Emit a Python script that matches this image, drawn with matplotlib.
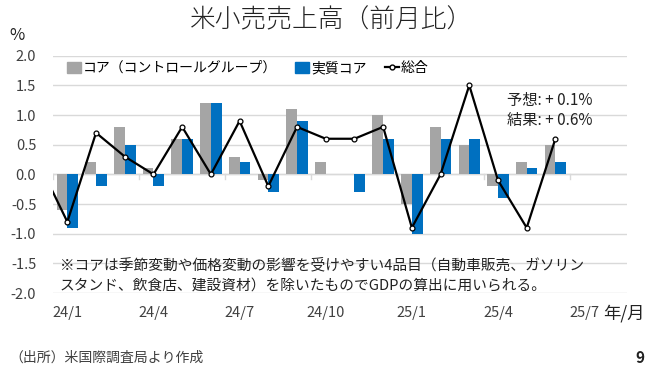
import numpy as np
import matplotlib
matplotlib.use("Agg")
import matplotlib.pyplot as plt
from matplotlib.patches import Patch
from matplotlib.lines import Line2D

plt.rcParams['font.family'] = ['Noto Sans CJK JP', 'DejaVu Sans']

months = ["24/1", "24/2", "24/3", "24/4", "24/5", "24/6", "24/7", "24/8", "24/9", "24/10",
          "24/11", "24/12", "25/1", "25/2", "25/3", "25/4", "25/5", "25/6", "25/7", "25/8"]
core = [-0.6, 0.2, 0.8, 0.1, 0.6, 1.2, 0.3, -0.1, 1.1, 0.2,
        0.0, 1.0, -0.5, 0.8, 0.5, -0.2, 0.2, 0.5, np.nan, np.nan]
real_core = [-0.9, -0.2, 0.5, -0.2, 0.6, 1.2, 0.2, -0.3, 0.9, 0.0,
             -0.3, 0.6, -1.0, 0.6, 0.6, -0.4, 0.1, 0.2, np.nan, np.nan]
total = [-0.8, 0.7, 0.3, 0.0, 0.8, 0.0, 0.9, -0.2, 0.8, 0.6,
         0.6, 0.8, -0.9, 0.0, 1.5, -0.1, -0.9, 0.6, np.nan, np.nan]
prev_total = 0.2  # 23/12 (clipped at left edge)
tick_every = 3

fig = plt.figure(figsize=(6.54, 3.71), dpi=100)
ax = fig.add_axes([0.081, 0.2102, 0.878, 0.6397])

x = np.arange(len(months))
w = 0.375
gray = '#A5A5A5'
blue = '#0070C0'
ax.bar(x - w/2, core, width=w, color=gray, zorder=2)
ax.bar(x + w/2, real_core, width=w, color=blue, zorder=2)
xl = np.concatenate([[-1], x])
yl = np.concatenate([[prev_total], total])
ax.plot(xl, yl, color='black', lw=1.6, zorder=3)
ax.plot(x, total, linestyle='none', marker='o', ms=3.5, mfc='white', mec='black', mew=0.9, zorder=4)

ax.set_xlim(-0.5, len(months) - 0.5)
ax.set_ylim(-2.0, 2.0)
ax.set_yticks(np.arange(-2.0, 2.01, 0.5))
ax.set_yticklabels([f"{v:.1f}" for v in np.arange(-2.0, 2.01, 0.5)], fontsize=10.5, color='#404040')
ax.yaxis.grid(True, color='#D9D9D9', lw=1.0, zorder=0)
ax.set_axisbelow(True)
for s in ax.spines.values():
    s.set_visible(False)
ax.tick_params(axis='y', length=0, pad=12)
ax.axhline(0, color='#D9D9D9', lw=1.0, zorder=1)
# category tick marks on zero line
bounds = np.arange(-0.5, len(months), tick_every)
for b in bounds:
    ax.plot([b, b], [0, -0.07], color='#D9D9D9', lw=1.0, zorder=1)

ax.set_xticks(x[::tick_every])
ax.set_xticklabels(months[::tick_every], fontsize=10.5, color='#404040')
ax.tick_params(axis='x', length=0, pad=9)

fig.text(0.507, 0.945, "米小売売上高（前月比）", ha='center', va='center', fontsize=18.5,
         fontweight='light', color='#222222')
fig.text(0.015, 0.905, "%", ha='left', va='center', fontsize=12, color='#222222')
fig.text(0.922, 0.155, "年/月", ha='left', va='center', fontsize=12.5, color='#222222')
fig.text(0.015, 0.035, "（出所）米国際調査局より作成", ha='left', va='center', fontsize=10, color='#404040')
fig.text(0.985, 0.035, "9", ha='right', va='center', fontsize=11, fontweight='bold', color='#222222')

handles = [Patch(color=gray), Patch(color=blue),
           Line2D([0], [0], color='black', lw=1.6, marker='o', ms=3.5, mfc='white', mec='black')]
labels = ["コア（コントロールグループ）", "実質コア", "総合"]
ax.legend(handles, labels, loc='center left', bbox_to_anchor=(0.015, 0.948), ncol=3, frameon=False,
          fontsize=10, handlelength=1.0, handleheight=0.8, handletextpad=0.15, columnspacing=1.3,
          borderaxespad=0)

ax.text(0.79, 0.81, "予想: + 0.1%", transform=ax.transAxes, fontsize=11, ha='left', va='center', color='#222222')
ax.text(0.79, 0.725, "結果: + 0.6%", transform=ax.transAxes, fontsize=11, ha='left', va='center', color='#222222')
ax.text(0.012, 0.118, "※コアは季節変動や価格変動の影響を受けやすい4品目（自動車販売、ガソリン",
        transform=ax.transAxes, fontsize=10.6, ha='left', va='center', color='#222222')
ax.text(0.012, 0.028, "スタンド、飲食店、建設資材）を除いたものでGDPの算出に用いられる。",
        transform=ax.transAxes, fontsize=10.6, ha='left', va='center', color='#222222')

fig.savefig("out.png", dpi=100)
